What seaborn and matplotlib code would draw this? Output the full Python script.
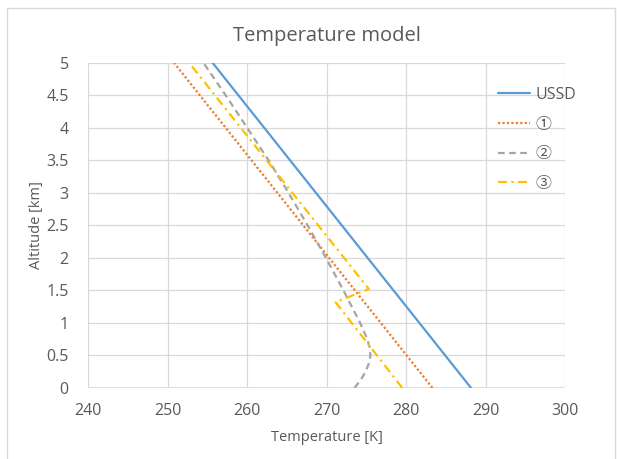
import pandas as pd
import matplotlib.pyplot as plt
import seaborn as sns
from matplotlib.patches import Rectangle

# values
alt_ussd = [0, 5]
temp_ussd = [288.15, 255.65]

alt_1 = [0, 5]
temp_1 = [283.3, 250.8]

alt_2 = [0, 0.125, 0.25, 0.375, 0.5, 0.625, 0.75, 1.0, 1.5, 2.0, 2.5, 3.0, 3.5, 4.0, 4.5, 5.0]
temp_2 = [273.5, 274.3, 274.9, 275.3, 275.5, 275.4, 275.1, 274.2, 272.1, 269.9, 267.6, 265.2, 262.7, 260.0, 257.3, 254.5]

alt_3 = [0, 1.32, 1.52, 5]
temp_3 = [279.5, 271.1, 275.3, 252.7]

names = ['USSD', '①', '②', '③']
colors = ['#5B9BD5', '#ED7D31', '#A5A5A5', '#FFC000']

frames = []
for name, t, a in zip(names, [temp_ussd, temp_1, temp_2, temp_3], [alt_ussd, alt_1, alt_2, alt_3]):
    frames.append(pd.DataFrame({'Temperature': t, 'Altitude': a, 'model': name}))
df = pd.concat(frames, ignore_index=True)

sns.set_style('white')
plt.rcParams['font.family'] = ['Open Sans', 'Noto Sans CJK JP', 'DejaVu Sans']
text_col = '#595959'

fig = plt.figure(figsize=(6.17, 4.59), dpi=100)
ax = fig.add_axes([0.143, 0.155, 0.773, 0.708])

# Excel-like chart border
fig.patches.append(Rectangle((0.011, -0.01), 0.985, 0.993, transform=fig.transFigure,
                             fill=False, edgecolor='#D9D9D9', linewidth=1))

sns.lineplot(data=df, x='Temperature', y='Altitude', hue='model', style='model',
             sort=False, estimator=None, ax=ax,
             palette=dict(zip(names, colors)),
             dashes={'USSD': '', '①': (1, 1), '②': (3, 2), '③': (4, 2, 1, 2)},
             linewidth=1.6)

ax.set_xlim(240, 300)
ax.set_ylim(0, 5)
ax.set_xticks(range(240, 301, 10))
ax.set_yticks([i * 0.5 for i in range(11)])
ax.set_yticklabels(['0', '0.5', '1', '1.5', '2', '2.5', '3', '3.5', '4', '4.5', '5'])
ax.grid(True, color='#D9D9D9', linewidth=0.9)
for s in ax.spines.values():
    s.set_visible(False)
ax.axhline(0, color='#D9D9D9', linewidth=1.2, zorder=0)
ax.tick_params(colors=text_col, labelsize=11.5, length=0)
ax.tick_params(axis='x', pad=11)
ax.tick_params(axis='y', pad=14)

ax.set_title('Temperature model', color=text_col, fontsize=14.5, pad=16)
ax.set_xlabel('Temperature [K]', color=text_col, fontsize=10.5, labelpad=8)
ax.set_ylabel('Altitude [km]', color=text_col, fontsize=10.5, labelpad=2)

leg = ax.legend(loc='upper left', bbox_to_anchor=(0.83, 0.97), frameon=False,
                handlelength=2.0, handletextpad=0.3, labelspacing=0.85, fontsize=11.5)
for t in leg.get_texts():
    t.set_color(text_col)

fig.savefig('out.png', dpi=100)
